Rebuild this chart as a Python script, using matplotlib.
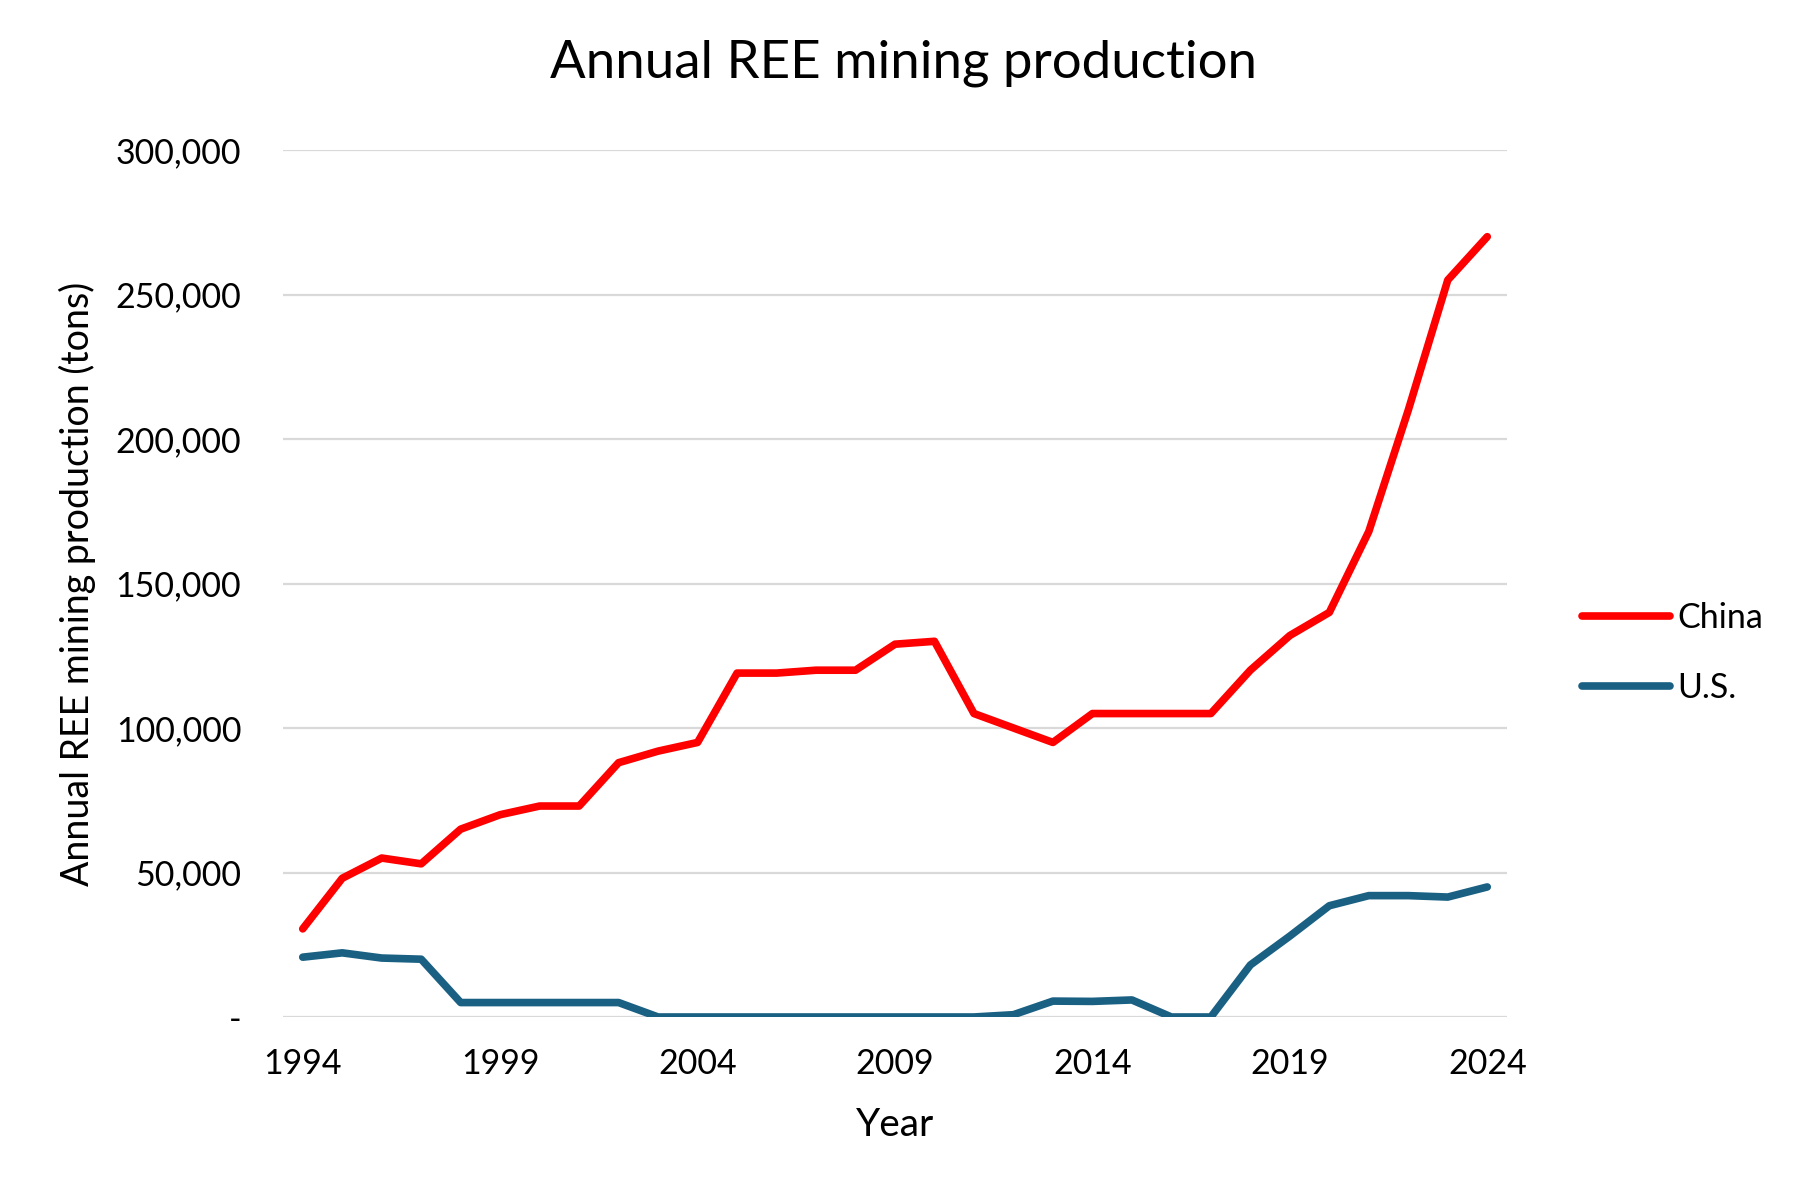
import matplotlib
matplotlib.use("Agg")
import matplotlib.pyplot as plt
from matplotlib.ticker import FuncFormatter

plt.rcParams['font.family'] = ['Lato', 'DejaVu Sans']

years = list(range(1994, 2025))
china = [30500, 48000, 55000, 53000, 65000, 70000, 73000, 73000, 88000, 92000,
         95000, 119000, 119000, 120000, 120000, 129000, 130000, 105000, 100000, 95000,
         105000, 105000, 105000, 105000, 120000, 132000, 140000, 168000, 210000, 255000,
         270000]
us = [20700, 22200, 20400, 20000, 5000, 5000, 5000, 5000, 5000, 0,
      0, 0, 0, 0, 0, 0, 0, 0, 800, 5500,
      5400, 5900, 0, 0, 18000, 28000, 38500, 42000, 42000, 41500,
      45000]
xticks = [1994, 1999, 2004, 2009, 2014, 2019, 2024]
yticks = [0, 50000, 100000, 150000, 200000, 250000, 300000]

fig = plt.figure(figsize=(18, 12), dpi=100)
ax = fig.add_axes([283/1800, 1 - 1017/1200, (1507-283)/1800, (1017-150)/1200])

ax.plot(years, china, color='#FF0000', lw=5.5, label='China', solid_capstyle='round', solid_joinstyle='round')
ax.plot(years, us, color='#1a6083', lw=5.5, label='U.S.', solid_capstyle='round', solid_joinstyle='round')

ax.set_xlim(1993.5, 2024.5)
ax.set_ylim(0, 300000)
ax.set_xticks(xticks)
ax.set_yticks(yticks)
ax.yaxis.set_major_formatter(FuncFormatter(lambda v, p: '-' if v == 0 else f'{int(v):,}'))
ax.grid(axis='y', color='#d9d9d9', lw=1.6)
ax.set_axisbelow(True)
for s in ax.spines.values():
    s.set_visible(False)
ax.tick_params(axis='both', length=0, labelsize=24.5)
ax.tick_params(axis='y', pad=30)
ax.tick_params(axis='x', pad=22)

ax.set_xlabel('Year', fontsize=28, labelpad=20)
ax.set_ylabel('Annual REE mining production (tons)', fontsize=27, labelpad=14)
fig.text(903/1800, 1 - 63/1200, 'Annual REE mining production', ha='center', va='center', fontsize=38)

leg = ax.legend(loc='center left', bbox_to_anchor=(1582/1800, 1 - 653/1200),
                bbox_transform=fig.transFigure, frameon=False, fontsize=24.5,
                borderpad=0, borderaxespad=0,
                handlelength=2.6, handletextpad=0.2, labelspacing=1.1)

fig.savefig('out.png', dpi=100)
